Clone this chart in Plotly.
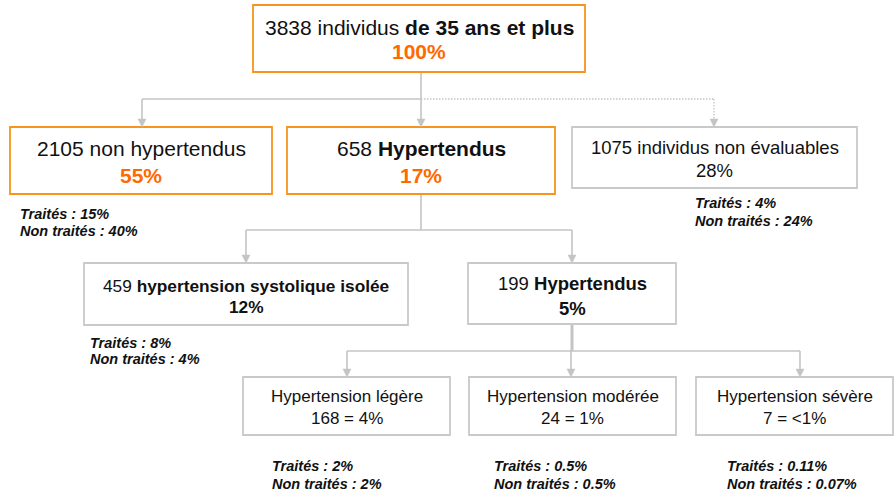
import plotly.graph_objects as go

# ---------------- data ----------------
node_ids = ["total", "non_hta", "hta", "non_eval", "hsi", "hta2", "legere", "moderee", "severe"]
counts = [3838, 2105, 658, 1075, 459, 199, 168, 24, 7]
percents = ["100%", "55%", "17%", "28%", "12%", "5%", "4%", "1%", "<1%"]
titles = ["individus <b>de 35 ans et plus</b>", "non hypertendus", "<b>Hypertendus</b>",
          "individus non évaluables", "<b>hypertension systolique isolée</b>", "<b>Hypertendus</b>",
          "Hypertension légère", "Hypertension modérée", "Hypertension sévère"]
parents = [None, "total", "total", "total", "hta", "hta", "hta2", "hta2", "hta2"]

treated_nodes = ["non_hta", "non_eval", "hsi", "legere", "moderee", "severe"]
traites = ["15%", "4%", "8%", "2%", "0.5%", "0.11%"]
non_traites = ["40%", "24%", "4%", "2%", "0.5%", "0.07%"]

# ---------------- layout / styling (pixel geometry) ----------------
W, H = 894, 494
ORANGE_BORDER = "#F7941D"
ORANGE_TEXT = "#FF6A00"
GRAY_BORDER = "#C9C9C9"
LINE = "#C4C4C4"
FONT = "Liberation Sans, Arial, sans-serif"

geom = {
    # box x0, y0, x1, y1, line1 y, line2 y, font size, style
    "total":    dict(box=(253, 5, 585, 72),   ly=(27, 51),   fs=21, st="orange"),
    "non_hta":  dict(box=(10, 127, 272, 194), ly=(148, 175), fs=21, st="orange"),
    "hta":      dict(box=(287, 127, 555, 194), ly=(148, 175), fs=21, st="orange"),
    "non_eval": dict(box=(572, 127, 857, 188), ly=(147, 170), fs=18.5, st="plain"),
    "hsi":      dict(box=(84, 263, 408, 325), ly=(286, 307), fs=17.3, st="boldpct"),
    "hta2":     dict(box=(468, 263, 676, 324), ly=(283, 308), fs=18.5, st="boldpct"),
    "legere":   dict(box=(243, 377, 450, 435), ly=(396, 418), fs=17, st="eq"),
    "moderee":  dict(box=(469, 377, 676, 435), ly=(396, 418), fs=17, st="eq"),
    "severe":   dict(box=(696, 377, 893, 435), ly=(396, 418), fs=17, st="eq"),
}
treat_pos = {
    "non_hta": (18, 214, 231),
    "non_eval": (693, 203, 221),
    "hsi": (88, 343, 359),
    "legere": (270, 466, 484),
    "moderee": (492, 466, 484),
    "severe": (725, 466, 484),
}
# connectors: parent drop x, bus y, child arrow x
parent_drop = {"total": (421, 99), "hta": (421, 230), "hta2": (572, 351)}
child_x = {"non_hta": 142, "hta": 421, "non_eval": 714, "hsi": 246, "hta2": 572,
           "legere": 347, "moderee": 571, "severe": 800}
dotted_children = {"non_eval"}

fig = go.Figure()
shapes = []
annotations = []

def line(x0, y0, x1, y1, dash="solid", width=1.6, color=LINE):
    shapes.append(dict(type="line", x0=x0, y0=y0, x1=x1, y1=y1, xref="x", yref="y",
                       line=dict(color=color, width=width, dash=dash), layer="below"))

def arrow(x, ytip, color=LINE):
    shapes.append(dict(type="path", path=f"M {x-4},{ytip-8} L {x+4},{ytip-8} L {x},{ytip} Z",
                       xref="x", yref="y", fillcolor=color, line=dict(color=color, width=0.5)))

def text(x, y, s, size, color="#111111", xanchor="center"):
    annotations.append(dict(x=x, y=y, xref="x", yref="y", text=s, showarrow=False,
                            xanchor=xanchor, yanchor="middle",
                            font=dict(family=FONT, size=size, color=color)))

# connectors
for pid, (px, bus_y) in parent_drop.items():
    pb = geom[pid]["box"][3]
    kids = [nid for nid, p in zip(node_ids, parents) if p == pid]
    w = 3 if pid == "hta2" else 1.6
    line(px, pb, px, bus_y, width=w)
    solid_kids = [child_x[k] for k in kids if k not in dotted_children] + [px]
    line(min(solid_kids), bus_y, max(solid_kids), bus_y)
    for k in kids:
        cx = child_x[k]
        ctop = geom[k]["box"][1]
        if k in dotted_children:
            line(px, bus_y, cx, bus_y, dash="1.5px,1.5px", width=1.3)
            line(cx, bus_y, cx, ctop - 6, dash="1.5px,1.5px", width=1.3)
        else:
            line(cx, bus_y, cx, ctop - 6)
        arrow(cx, ctop)

# boxes and texts
for nid, cnt, pct, title in zip(node_ids, counts, percents, titles):
    g = geom[nid]
    x0, y0, x1, y1 = g["box"]
    st = g["st"]
    border = ORANGE_BORDER if st == "orange" else GRAY_BORDER
    shapes.append(dict(type="rect", x0=x0, y0=y0, x1=x1, y1=y1, xref="x", yref="y",
                       line=dict(color=border, width=1.8), fillcolor="white", layer="below"))
    cx = (x0 + x1) / 2
    l1, l2 = g["ly"]
    fs = g["fs"]
    if st == "eq":
        text(cx, l1, title, fs)
        text(cx, l2, f"{cnt} = {pct}", fs)
    else:
        text(cx, l1, f"{cnt} {title}", fs)
        if st == "orange":
            text(cx, l2, f"<b>{pct}</b>", fs, color=ORANGE_TEXT)
        elif st == "boldpct":
            text(cx, l2, f"<b>{pct}</b>", fs)
        else:
            text(cx, l2, pct, fs)

for nid, t, nt in zip(treated_nodes, traites, non_traites):
    x, ya, yb = treat_pos[nid]
    text(x, ya, f"<b><i>Traités : {t}</i></b>", 14.5, xanchor="left")
    text(x, yb, f"<b><i>Non traités : {nt}</i></b>", 14.5, xanchor="left")

fig.update_layout(
    width=W, height=H, margin=dict(l=0, r=0, t=0, b=0),
    paper_bgcolor="white", plot_bgcolor="white",
    xaxis=dict(range=[0, W], visible=False, fixedrange=True),
    yaxis=dict(range=[H, 0], visible=False, fixedrange=True),
    shapes=shapes, annotations=annotations, showlegend=False,
)
fig.write_html("out.html", config={"displayModeBar": False},
               post_script="document.body.style.margin='0';document.body.style.overflow='hidden';")
